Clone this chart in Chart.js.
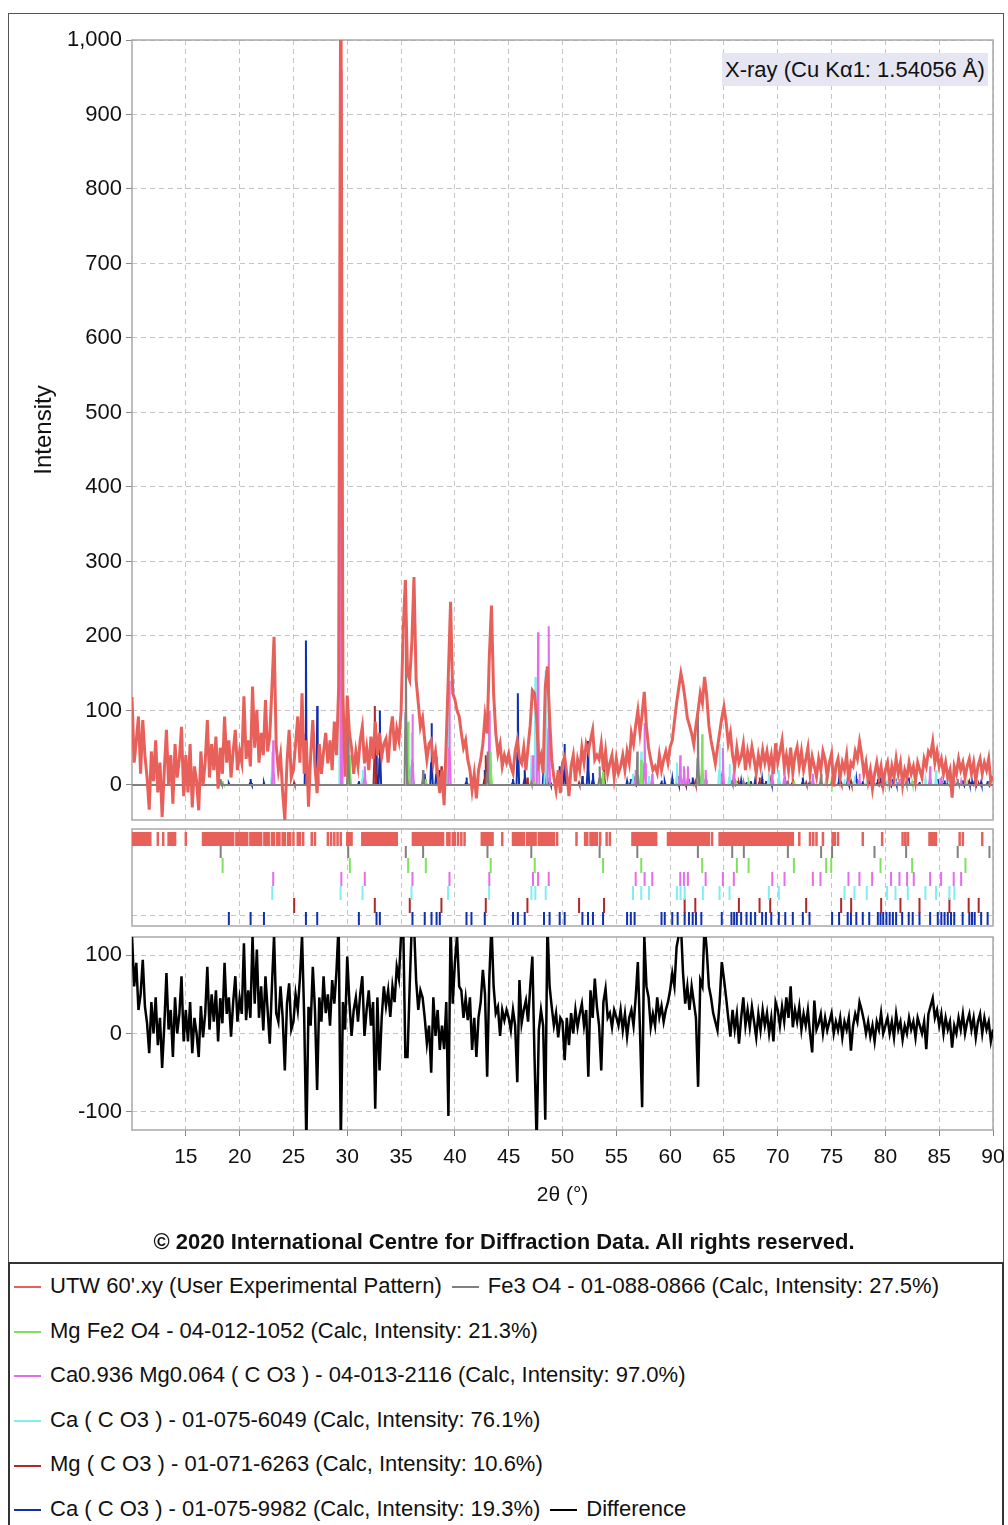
<!DOCTYPE html>
<html>
<head>
<meta charset="utf-8">
<script src="https://cdn.jsdelivr.net/npm/chart.js@4.4.1/dist/chart.umd.min.js"></script>
<style>
  body { margin: 0; background: #fff; font-family: "Liberation Sans", Arial, sans-serif; color: #111; }
  #page { position: relative; width: 1008px; height: 1525px; overflow: hidden; }
  #page canvas { position: absolute; left: 0; }
  #frame { position: absolute; left: 8px; top: 13px; width: 996px; height: 1250px; border: 1px solid #555; box-sizing: border-box; }
  #xray { position: absolute; left: 722px; top: 53px; height: 33px; line-height: 33px; padding: 0 3px; background: #e6e6f2; font-size: 22px; }
  #copy { position: absolute; left: 0; top: 1229px; width: 1008px; text-align: center; font-weight: bold; font-size: 22px; line-height: 26px; }
  #legend { position: absolute; left: 8px; top: 1262px; width: 996px; height: 290px; border: 2px solid #333; box-sizing: border-box; }
  .row { position: absolute; left: 4px; height: 26px; line-height: 26px; font-size: 22px; white-space: nowrap; }
  .item { display: inline-block; margin-right: 10px; }
  .mark { display: inline-block; width: 27px; height: 2px; vertical-align: middle; margin-right: 9px; }
</style>
</head>
<body>
<div id="page">
  <div id="frame"></div>
  <canvas id="mainChart" width="1008" height="830" style="top:0"></canvas>
  <canvas id="stickChart" width="1008" height="104" style="top:826px"></canvas>
  <canvas id="diffChart" width="1008" height="290" style="top:930px"></canvas>
  <div id="xray">X-ray (Cu Kα1: 1.54056 Å)</div>
  <div id="copy">© 2020 International Centre for Diffraction Data. All rights reserved.</div>
  <div id="legend"></div>
</div>
<script>
// scan grid: 10 to 90 deg 2theta, one reading every 0.2 deg
const scanStart = 10, scanStep = 0.2;

// measured pattern (UTW 60'.xy), 5 deg per line
const expIntensity = [
  118, 30, 60, 92, 15, 87, 40, 10, -33, 45, 5, 60, -10, 30, -43, 20, 74, 0, 40, -25, 55, 10, 35, 78, -15,
  40, -10, 55, -30, 25, 5, -34, 45, 0, 30, 87, 10, 55, 20, 65, -5, 50, 15, 92, 30, 60, 10, 45, 74, 20,
  45, 30, 119, 35, 60, 25, 132, 50, 101, 30, 70, 40, 114, 45, 65, 130, 199, 52, 20, 40, -10, -47, 30, 74, 10,
  20, 55, 92, 30, 123, 15, 60, -29, 40, 87, 25, -11, 55, 15, 45, 70, 29, 60, 20, 85, 40, 130, 1150, 120, 11,
  120, 70, 50, 15, 45, 25, 60, 78, 29, 50, 20, 65, 35, 85, 40, 70, 38, 55, 62, 30, 70, 92, 46, 75, 60,
  98, 208, 275, 150, 141, 190, 279, 141, 110, 78, 90, 60, 34, 55, 60, 30, 45, 16, -11, 20, -27, 60, 150, 246, 123,
  115, 100, 92, 70, 50, 60, 34, 20, -7, 15, -18, 20, 34, 55, 92, 69, 172, 241, 123, 70, 42, 55, 25, 40, 30,
  42, 25, 16, 45, 60, 35, 29, 50, 20, 51, 80, 127, 123, 90, 29, 40, 16, 132, 159, 90, 34, 10, -7, 20, -11,
  30, 38, 15, -15, 25, 40, 5, 34, 20, 50, 30, 55, 45, 60, 74, 34, 40, 34, 55, 20, 45, 15, 29, 40, 10,
  35, 16, 25, 40, 20, 45, 30, 69, 55, 80, 100, 70, 95, 125, 78, 50, 34, 20, 25, 16, 40, 20, 34, 45, 30,
  51, 60, 85, 110, 130, 150, 135, 114, 90, 80, 69, 54, 80, 100, 123, 110, 145, 120, 80, 60, 45, 29, 50, 70, 90,
  105, 85, 56, 70, 40, 25, 50, 30, 38, 55, 20, 45, 30, 51, 35, 16, 40, 25, 47, 30, 45, 25, 40, 15, 56,
  30, 45, 60, 25, 40, 20, 50, 16, 40, 51, 25, 45, 20, 34, 50, 15, 38, 25, 11, 35, 20, 45, 34, 10, 30,
  42, -2, 25, 35, 10, 30, 20, 40, 5, 30, 25, 45, 35, 58, 40, 15, 30, 5, 20, -5, 15, 30, 10, 25, 0,
  20, 30, 5, 25, 10, 35, 15, 30, 0, 20, 10, 30, 15, 25, 5, 30, 20, 10, 35, 25, 45, 40, 58, 30, 45,
  25, 35, 15, 30, 10, 20, -17, 25, 15, 35, 20, 30, 10, 25, 35, 15, 30, 5, 25, 35, 15, 30, 20, 35, 5, 12
];

// difference curve (measured - calculated), same grid
const diffIntensity = [
  125, 60, 90, 30, 50, 94, 35, 13, -25, 40, 0, 46, -15, 20, -44, 10, 77, 5, 30, -30, 46, 0, 25, 73, -10,
  30, -10, 40, -25, 20, 0, -30, 35, -5, 25, 85, 5, 50, 15, 55, -10, 45, 13, 90, 25, 46, -4, 40, 73, 15,
  45, 25, 115, 17, 55, 20, 125, 38, 107, 20, 60, 4, 73, 30, -13, 60, 125, 26, 15, 60, 20, -47, 38, 64, 5,
  15, 50, 30, 70, 125, 20, -140, 34, 10, 85, 30, -72, 46, 15, 73, 26, 50, 10, 68, 38, 80, 140, -140, 40, 5,
  98, 40, -3, 30, 46, 15, 50, 73, -3, 30, 55, 10, 40, -96, 46, -47, 20, 60, 35, 55, 21, 60, 40, 85, 70,
  125, 140, -30, -30, 60, 140, 140, 68, 30, 55, 46, 20, -13, 10, -50, 46, -3, 30, -21, 10, -20, 40, -105, 140, 38,
  90, 125, 60, 55, 20, 45, 17, 46, -21, 20, -30, 21, 40, 81, 50, -55, 70, 140, 60, 26, 34, -3, 30, 17, 30,
  20, 4, 30, 10, -62, 68, 13, 30, 42, 15, 60, 98, -30, -140, 4, 30, 10, -110, 140, 60, 34, 10, 26, -5, 20,
  15, -34, 20, -15, 26, 0, 30, 8, 25, 38, 10, 30, -55, 55, 20, 70, 34, 10, -47, 40, 57, 20, 26, 8, 30,
  21, 10, 30, 4, 25, -4, 20, 30, 10, 46, 91, 4, -94, 125, 60, 46, 8, 25, 10, 46, 21, 35, 15, 30, 40,
  55, 77, 60, 110, 125, 140, 77, 38, 60, 30, 60, 40, 20, -68, 68, 60, 140, 107, 60, 46, 26, 15, 4, 40, 91,
  70, 46, 20, -4, 30, 5, 25, -13, 20, 46, 10, 30, 8, 34, 15, -5, 25, 4, 30, 10, 26, 0, 20, -10, 40,
  30, 10, 34, 15, 46, 20, 60, 8, 30, 15, 34, 5, 25, 10, 30, 0, -24, 42, 5, 13, 25, 0, 20, 4, 15,
  26, 0, 15, 4, 20, -5, 15, 5, 20, -22, 10, 25, 15, 40, 30, 17, 0, 15, -4, 10, -10, 15, 5, 26, 0,
  10, 20, 0, 15, -5, 25, 5, 15, -8, 10, 0, 20, 5, 15, -5, 20, 10, 0, 15, -20, 25, 35, 45, 20, 30,
  10, 25, 0, 20, 5, 15, -18, 10, 0, 20, 5, 25, 0, 15, 25, 5, 20, -5, 15, 25, 0, 20, 5, 15, -10, 5
];

// peaks found in the measured pattern (top stick row)
const expPeaks = [
  10.1, 10.3, 10.5, 10.7, 10.9, 11.1, 11.3, 11.5, 11.7, 12.4, 12.9, 13.4, 13.6, 13.8, 14.0, 15.0,
  16.6, 16.8, 17.0, 17.2, 17.4, 17.6, 17.8, 18.0, 18.2, 18.4, 18.6, 18.8, 19.0, 19.2, 19.4, 19.7, 19.9,
  20.1, 20.3, 20.5, 20.7, 21.0, 21.2, 21.4, 21.6, 21.8, 22.0, 22.3, 22.5, 22.7, 23.0, 23.2, 23.5, 23.7,
  24.0, 24.2, 24.5, 24.7, 25.0, 25.4, 25.6, 25.9, 26.7, 27.0, 28.2, 28.5, 28.8, 29.1, 29.4, 30.0, 30.2, 30.4,
  31.4, 31.6, 31.8, 32.0, 32.2, 32.4, 32.6, 32.8, 33.0, 33.2, 33.4, 33.6, 33.8, 34.0, 34.2, 34.4, 34.6,
  36.1, 36.3, 36.5, 36.7, 36.9, 37.1, 37.3, 37.5, 37.7, 37.9, 38.1, 38.3, 38.5, 38.7, 38.9,
  39.3, 39.5, 39.8, 40.0, 40.3, 40.6, 40.9, 42.5, 42.7, 42.9, 43.1, 43.3, 43.5, 44.4,
  45.4, 45.6, 45.8, 46.0, 46.2, 46.4, 46.7, 46.9, 47.1, 47.3, 47.5, 47.8, 48.0, 48.2, 48.4, 48.6, 48.8, 49.0, 49.2, 49.5,
  51.3, 52.1, 52.3, 52.6, 52.8, 53.0, 53.2, 53.5, 54.1, 54.4,
  56.5, 56.7, 56.9, 57.1, 57.3, 57.5, 57.7, 57.9, 58.1, 58.3, 58.5, 58.7,
  59.8, 60.0, 60.2, 60.4, 60.6, 60.8, 61.0, 61.2, 61.4, 61.6, 61.8, 62.0, 62.2, 62.4, 62.6, 62.8, 63.0, 63.2, 63.4, 63.6, 63.9,
  64.6, 64.8, 65.0, 65.2, 65.4, 65.6, 65.8, 66.0, 66.2, 66.4, 66.6, 66.8, 67.0, 67.2, 67.4, 67.6, 67.8, 68.0,
  68.2, 68.4, 68.6, 68.8, 69.0, 69.2, 69.4, 69.6, 69.8, 70.0, 70.2, 70.4, 70.6, 70.8, 71.0, 71.2, 71.4,
  72.0, 73.0, 73.3, 73.6, 74.2, 75.1, 75.3, 75.6, 77.9, 79.7, 81.6, 81.85, 82.1, 84.1, 84.3, 84.5, 84.7, 86.9, 87.2, 89.0
];

// reference phases: peak positions (deg) and calculated intensities
const fe3o4Pos = [18.24, 30.09, 35.44, 37.05, 43.03, 47.1, 53.45, 56.95, 62.58, 65.77, 66.85, 70.94, 74.03, 75.05, 78.99, 81.93, 86.72, 89.67];
const fe3o4Int = [8, 84, 275, 20, 45, 3, 25, 45, 100, 3, 3, 6, 15, 5, 3, 4, 8, 6];

const mgfe2o4Pos = [18.42, 30.24, 35.66, 37.3, 43.33, 47.42, 53.77, 57.32, 62.98, 66.2, 67.29, 71.5, 74.5, 74.97, 79.55, 82.49, 87.44];
const mgfe2o4Int = [5, 40, 85, 8, 45, 2, 18, 34, 68, 2, 4, 6, 10, 4, 2, 4, 6];

const camgPos = [23.12, 29.45, 31.63, 36.06, 39.5, 43.2, 47.26, 47.73, 48.72, 56.8, 57.63, 58.34, 60.94, 61.28, 61.65, 63.3, 64.9,
  65.92, 69.49, 70.63, 73.26, 73.97, 76.57, 77.59, 78.77, 80.53, 81.31, 82.02, 82.64, 84.16, 85.18, 86.35, 87.04];
const camgInt = [60, 960, 25, 95, 140, 100, 40, 205, 213, 20, 83, 15, 40, 25, 25, 20, 50,
  38, 20, 25, 15, 10, 10, 15, 8, 5, 8, 6, 5, 25, 10, 8, 5];

const calcitePos = [23.03, 29.38, 31.42, 35.97, 39.37, 43.18, 47.11, 47.48, 48.44, 56.55, 57.32, 58.03, 60.63, 60.97, 61.35,
  63.04, 64.59, 65.52, 69.17, 70.1, 76.2, 77.13, 78.27, 80.16, 80.94, 82.08, 83.72, 84.71, 85.95, 86.41];
const calciteInt = [45, 750, 20, 70, 143, 90, 40, 145, 154, 15, 45, 12, 30, 25, 20,
  15, 55, 28, 15, 20, 8, 12, 6, 4, 6, 5, 8, 20, 8, 6];

const mgco3Pos = [25.07, 32.56, 35.81, 38.75, 42.87, 46.74, 51.54, 53.86, 61.35, 62.34, 66.39, 68.31, 69.3, 72.64, 75.89, 76.82,
  79.61, 81.4, 83.17, 85.95, 87.74, 88.67];
const mgco3Int = [3, 106, 20, 25, 40, 10, 3, 25, 6, 4, 3, 10, 6, 3, 3, 4, 3, 3, 2, 3, 2, 2];

const aragonitePos = [19.0, 21.02, 22.26, 26.16, 27.21, 31.08, 32.72, 33.03, 36.06, 37.2, 37.83, 38.3, 38.6, 41.08, 41.54, 42.78,
  45.4, 45.85, 46.49, 48.28, 48.8, 49.74, 50.2, 51.85, 52.37, 52.83, 53.77, 56.0, 56.35, 56.7, 59.2, 59.5, 60.2, 60.7, 61.35,
  61.75, 62.1, 62.4, 62.9, 64.8, 65.7, 65.95, 66.2, 66.6, 67.1, 67.5, 67.9, 68.55, 68.9, 69.4, 70.1, 70.7, 71.4, 72.33, 72.95,
  75.05, 75.7, 76.5, 76.8, 77.3, 77.9, 78.5, 79.3, 79.55, 79.8, 80.1, 80.4, 80.7, 81.0, 81.56, 82.17, 82.54, 83.17, 84.16,
  84.87, 85.2, 85.5, 85.8, 86.1, 86.4, 87.18, 87.8, 88.05, 88.3, 88.9, 89.5];
const aragoniteInt = [2, 8, 3, 194, 106, 5, 40, 100, 30, 15, 83, 38, 20, 10, 8, 20,
  8, 123, 20, 57, 10, 25, 55, 12, 59, 16, 15, 5, 8, 4, 6, 4, 8, 12, 10,
  8, 10, 6, 8, 15, 6, 8, 5, 6, 4, 5, 6, 8, 5, 4, 6, 5, 8, 10, 5,
  6, 8, 10, 6, 8, 5, 6, 8, 10, 12, 5, 6, 8, 4, 6, 10, 5, 4, 6,
  8, 5, 6, 4, 8, 5, 6, 4, 5, 6, 4, 5];

const xTicks = [15, 20, 25, 30, 35, 40, 45, 50, 55, 60, 65, 70, 75, 80, 85, 90];
const mainTicks = [0, 100, 200, 300, 400, 500, 600, 700, 800, 900, 1000];
const diffTicks = [-100, 0, 100];

const legendNames = [
  "UTW 60'.xy (User Experimental Pattern)",
  "Fe3 O4 - 01-088-0866 (Calc, Intensity: 27.5%)",
  "Mg Fe2 O4 - 04-012-1052 (Calc, Intensity: 21.3%)",
  "Ca0.936 Mg0.064 ( C O3 ) - 04-013-2116 (Calc, Intensity: 97.0%)",
  "Ca ( C O3 ) - 01-075-6049 (Calc, Intensity: 76.1%)",
  "Mg ( C O3 ) - 01-071-6263 (Calc, Intensity: 10.6%)",
  "Ca ( C O3 ) - 01-075-9982 (Calc, Intensity: 19.3%)",
  "Difference"
];
const legendColors = ['#e8605a', '#808080', '#80e060', '#e46ee8', '#80eeee', '#b02828', '#1030b0', '#000000'];

// layout bits (not data)
const stickBands = [[3, 17], [17, 29], [29, 44], [43, 57], [57, 71], [69, 84], [83, 96]];
const legendRows = [[0, 1], [2], [3], [4], [5], [6, 7]];
const fontFam = '"Liberation Sans", Arial, sans-serif';

Chart.defaults.font.family = fontFam;
Chart.defaults.font.size = 22;
Chart.defaults.color = '#111';
Chart.defaults.animation = false;
Chart.defaults.responsive = false;
Chart.defaults.plugins.legend.display = false;
Chart.defaults.plugins.tooltip.enabled = false;

const angle = i => +(scanStart + i * scanStep).toFixed(2);
const expPoints = expIntensity.map((v, i) => ({ x: angle(i), y: v }));
const diffPoints = diffIntensity.map((v, i) => ({ x: angle(i), y: v }));

function profile(pos, inten) {
  const pts = [{ x: scanStart, y: 0 }];
  pos.forEach((p, i) => {
    const h = inten[i] || 0;
    pts.push({ x: p - 0.12, y: 0 }, { x: p - 0.04, y: h * 0.35 }, { x: p, y: h },
             { x: p + 0.04, y: h * 0.35 }, { x: p + 0.12, y: 0 });
  });
  pts.push({ x: 90, y: 0 });
  return pts;
}

function sticks(pos, band) {
  const pts = [];
  pos.forEach(p => pts.push({ x: p, y: band[0] }, { x: p, y: band[1] }, { x: p, y: null }));
  return pts;
}

const phasePos = [fe3o4Pos, mgfe2o4Pos, camgPos, calcitePos, mgco3Pos, aragonitePos];
const phaseInt = [fe3o4Int, mgfe2o4Int, camgInt, calciteInt, mgco3Int, aragoniteInt];

const frame = {
  id: 'frame',
  beforeDatasetsDraw(chart) {
    const { ctx, chartArea: a } = chart;
    ctx.save();
    ctx.strokeStyle = '#a8a8a8';
    ctx.lineWidth = 1.5;
    ctx.strokeRect(a.left, a.top, a.right - a.left, a.bottom - a.top);
    ctx.restore();
  }
};

const gridDash = { display: false, dash: [5, 4] };
const gridLines = { color: '#c4c4c4', lineWidth: 1, tickLength: 6, tickColor: '#888' };

function xAxis(height, showLabels) {
  return {
    type: 'linear', min: 10, max: 90,
    afterBuildTicks: s => { s.ticks = xTicks.map(v => ({ value: v })); },
    afterFit: s => { s.height = height; s.paddingLeft = 0; s.paddingRight = 0; },
    grid: Object.assign({}, gridLines, { drawTicks: showLabels }),
    border: gridDash,
    ticks: { display: showLabels, padding: 9, font: { size: 21 }, maxRotation: 0 },
    title: showLabels ? { display: true, text: '2θ (°)', font: { size: 21 }, padding: { top: 4, bottom: 12 } } : { display: false }
  };
}

function yAxis(min, max, ticks, labels, title) {
  return {
    min: min, max: max, reverse: !labels && min === 0 && max === 97,
    afterBuildTicks: s => { s.ticks = ticks.map(v => ({ value: v })); },
    afterFit: s => { s.width = 132; s.paddingTop = 0; s.paddingBottom = 0; },
    grid: Object.assign({}, gridLines, { drawTicks: labels }),
    border: gridDash,
    ticks: { display: labels, padding: 4, callback: v => v.toLocaleString('en-US') },
    title: title ? { display: true, text: title, font: { size: 24 }, padding: { top: 30, bottom: 0 } } : { display: false }
  };
}

// main pattern: measured on top, then calculated phases
const mainSets = [{ data: expPoints, borderColor: legendColors[0], borderWidth: 3 }];
phasePos.forEach((pos, k) => {
  mainSets.push({ data: profile(pos, phaseInt[k]), borderColor: legendColors[k + 1], borderWidth: 2 });
});
mainSets.forEach(d => { d.pointRadius = 0; d.tension = 0; d.fill = false; });

new Chart(document.getElementById('mainChart'), {
  type: 'line',
  data: { datasets: mainSets },
  options: {
    parsing: { xAxisKey: 'x', yAxisKey: 'y' },
    layout: { padding: { top: 40, right: 15, left: 0, bottom: 0 } },
    scales: { x: xAxis(10, false), y: yAxis(-47, 1000, mainTicks, true, 'Intensity') }
  },
  plugins: [frame]
});

// stick pattern
const stickSets = [{ data: sticks(expPeaks, stickBands[0]), borderColor: legendColors[0], borderWidth: 2.5 }];
phasePos.forEach((pos, k) => {
  stickSets.push({ data: sticks(pos, stickBands[k + 1]), borderColor: legendColors[k + 1], borderWidth: 2 });
});
stickSets.forEach(d => { d.pointRadius = 0; d.spanGaps = false; });

new Chart(document.getElementById('stickChart'), {
  type: 'line',
  data: { datasets: stickSets },
  options: {
    layout: { padding: { top: 3, right: 15, left: 0, bottom: 0 } },
    scales: { x: xAxis(4, false), y: yAxis(0, 97, [86], false, null) }
  },
  plugins: [frame]
});

// difference
new Chart(document.getElementById('diffChart'), {
  type: 'line',
  data: { datasets: [{ data: diffPoints, borderColor: '#000', borderWidth: 2.5, pointRadius: 0, tension: 0 }] },
  options: {
    layout: { padding: { top: 7, right: 15, left: 0, bottom: 0 } },
    scales: { x: xAxis(90, true), y: yAxis(-123, 123, diffTicks, true, null) }
  },
  plugins: [frame]
});

// legend box
const legendBox = document.getElementById('legend');
legendRows.forEach((row, r) => {
  const div = document.createElement('div');
  div.className = 'row';
  div.style.top = (9 + r * 44.6) + 'px';
  row.forEach(i => {
    const item = document.createElement('span');
    item.className = 'item';
    const mark = document.createElement('span');
    mark.className = 'mark';
    mark.style.background = legendColors[i];
    item.appendChild(mark);
    item.appendChild(document.createTextNode(legendNames[i]));
    div.appendChild(item);
  });
  legendBox.appendChild(div);
});
</script>
</body>
</html>
